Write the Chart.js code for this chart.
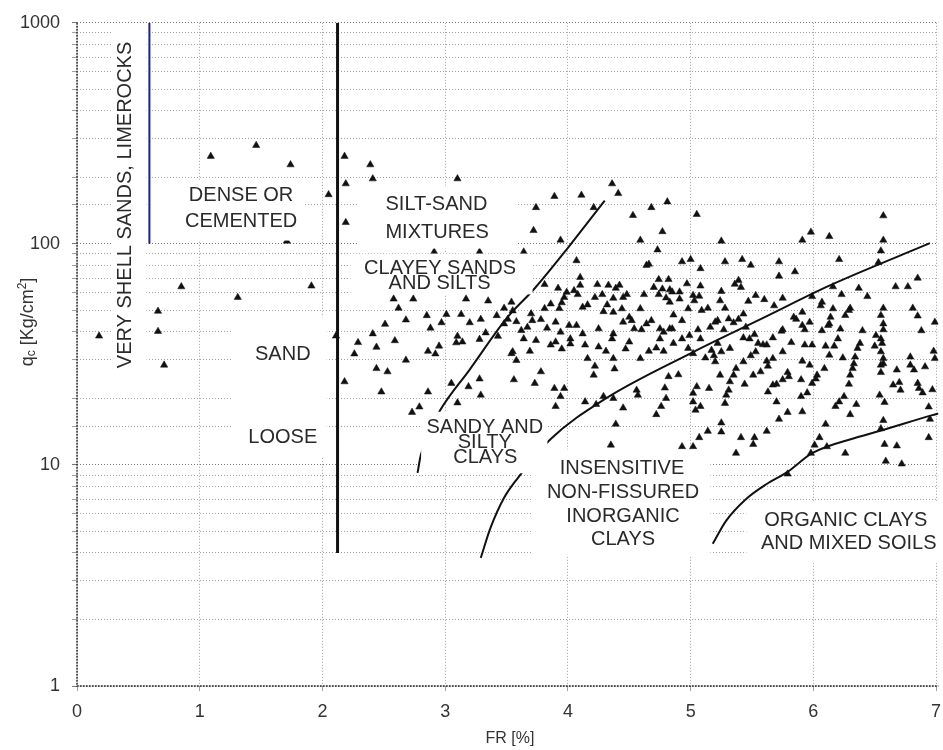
<!DOCTYPE html>
<html><head><meta charset="utf-8">
<script src="https://cdn.jsdelivr.net/npm/chart.js@4.4.1/dist/chart.umd.min.js"></script>
<style>html,body{margin:0;padding:0;background:#fff;overflow:hidden}#wrap{width:943px;height:750px;position:relative}</style>
</head><body><div id="wrap"><canvas id="c"></canvas></div>
<script>
// ---- DATA (FR [%], qc [Kg/cm2]) ----
const pointsSand = [[1.09,249],[1.46,279],[1.74,228],[2.05,167],[1.71,103],[0.85,64],[1.91,64.5],[1.31,57.3],[0.66,49.6],[0.66,40.2],[0.71,28.3],[0.18,38.3],[2.11,38.3]];
const pointsUpper = [[2.18,249],[2.39,228],[2.41,197],[2.19,187],[2.19,125],[3.10,197],[4.36,187],[4.41,169],[3.89,164],[4.11,166],[3.74,146],[4.21,146],[3.72,115],[3.94,104],[3.64,92],[4.07,84],[4.64,80],[4.66,81],[4.53,134.5],[4.68,146],[4.81,155],[4.77,113.6],[4.59,104],[4.73,94],[2.91,92],[3.28,92]];
const pointsSiltSand = [[2.58,56.3],[2.74,56.3],[2.62,51.2],[2.85,47.4],[3.01,48],[3.13,48],[2.68,45.3],[2.51,43.3],[2.88,41.6],[2.97,44],[3.20,44],[3.29,45.6],[3.17,56.3],[3.35,55.2],[2.41,39.2],[2.59,36.5],[2.29,35.8],[2.44,34.1],[2.26,31.8],[2.86,32.7],[2.92,31.8],[3.10,38.2],[3.14,36],[2.68,29.8],[2.44,27.3],[2.53,26.4],[2.18,23.8],[2.48,21.4],[2.86,21.4],[3.19,22.6],[3.29,20.7],[3.28,24.5],[3.42,47.4],[3.48,51.2],[2.95,34.5],[3.09,35.7],[3.28,37],[3.33,39.6],[3.43,38.2],[3.05,23.4],[3.10,19.1],[2.73,17.3],[2.79,18.3]];
const pointsMid = [[4.10,70.5],[4.10,65],[4.24,65.5],[4.33,65],[4.39,63],[4.42,65],[3.81,65.5],[3.92,63],[3.99,60.4],[4.05,61.5],[4.08,59],[3.97,57.3],[3.95,54.2],[4.74,69],[4.82,69],[4.70,63.6],[4.77,62.5],[4.83,62],[4.74,59],[4.80,57],[4.62,59],[4.28,59],[4.22,57.3],[4.48,59],[4.45,57.3],[4.37,56.8],[4.32,53],[4.16,53],[4.12,51.7],[3.93,51],[3.86,53.5],[3.81,51],[3.70,48.3],[3.54,54.5],[3.55,49.8],[3.51,45.6],[3.58,44.5],[3.48,43.5],[3.78,45.5],[3.71,45],[3.67,42],[3.62,40.6],[3.64,37.2],[3.74,36.6],[3.69,32.7],[3.55,32.5],[3.58,29.7],[3.83,41.6],[3.90,44.3],[3.94,39.9],[4.01,42.8],[4.07,42.8],[4.02,37.2],[4.02,35.3],[3.90,36],[3.86,34.9],[3.95,33.5],[4.12,39.2],[4.14,34.9],[4.25,41.3],[4.25,34.2],[4.31,32.7],[4.16,30.3],[4.22,28],[4.37,30.3],[4.38,27.2],[4.21,25.5],[4.29,49.4],[4.37,49.1],[4.44,50.9],[4.50,46.6],[4.52,45],[4.45,44.3],[4.54,41.3],[4.37,39.2],[4.36,37.2],[4.50,36],[4.47,33.5],[4.59,50.9],[4.68,45],[4.64,43.5],[4.60,40.9],[4.75,41.3],[4.78,39.9],[4.83,41.3],[4.75,37.2],[4.66,32.7],[4.72,33.8],[4.78,32.7],[4.59,30.3],[4.82,25.1],[4.79,22.3],[4.80,20],[4.76,18.4],[4.72,16.9],[4.56,21.8],[4.57,20.7],[4.45,18.1],[4.39,15.3],[4.35,12.3],[4.37,20],[4.29,20.4],[4.23,18.8],[4.14,19.3],[3.97,22.2],[3.89,22.2],[3.94,20.4],[3.90,18.4],[3.78,26.4],[3.73,23.4],[3.56,24.3],[3.54,31.9]];
const pointsClayA = [[5.05,136],[5.25,103],[4.93,83],[5.00,85],[5.08,77.3],[5.28,83],[5.42,85],[5.49,80.1],[5.72,83],[5.85,74.8],[5.72,71.5],[5.91,104],[5.39,68.4],[5.41,63.6],[5.36,65.7],[4.97,66],[5.08,64.5],[5.25,61],[5.47,55],[5.53,58.5],[5.60,56],[5.75,56.8],[5.68,52.5],[5.24,55.3],[5.28,51.2],[5.14,51.2],[5.09,50],[5.02,58.5],[5.03,55.3],[5.07,58],[4.85,60.6],[4.91,60.6],[4.91,56.3],[4.83,54.5],[4.98,50.9],[5.43,48.2],[5.39,45.6],[5.31,45.8],[5.22,45],[5.16,42],[5.20,44.3],[5.35,44],[5.27,40.9],[5.45,42],[5.52,38.9],[5.43,37.6],[5.48,37.2],[5.55,35.5],[5.62,34.9],[5.67,37.6],[5.75,40.9],[5.74,40.3],[5.82,35.8],[5.86,45.6],[5.84,46.6],[5.91,49.1],[4.86,47.7],[4.93,45],[4.85,41.3],[4.93,37.2],[4.86,35.5],[4.99,38.5],[5.06,40.9],[5.08,37.2],[4.98,33.7],[5.02,31.9],[5.12,30.5],[5.19,31.2],[5.20,29.3],[5.17,33],[5.25,32.5],[5.22,35.5],[5.32,33.7],[5.43,29.3],[5.49,31.2],[5.53,32.5],[5.59,35],[5.62,29.5],[5.63,28],[5.67,30.3],[5.75,32.5],[5.67,23],[5.70,23.2],[5.75,24.3],[5.79,26.2],[5.80,25.1],[5.91,29.5],[5.90,24.3],[5.90,20.4],[5.91,17.4],[5.79,17.3],[5.72,16.1],[5.70,19.3],[5.63,21.4],[5.57,26.4],[5.51,25.5],[5.44,23.2],[5.37,27.3],[5.35,25.5],[5.32,23.8],[5.31,21.8],[5.29,20.7],[5.28,19],[5.24,25.5],[5.15,22.2],[5.05,22.6],[5.02,21.1],[5.02,19.3],[5.04,17.7],[5.08,18.4],[5.25,15.5],[5.25,14.1],[5.14,14.2],[5.07,13.3],[4.93,12.1],[5.02,12.1],[5.37,11.3],[5.41,13.3],[5.52,13.3],[5.51,12.4],[5.62,14.2],[4.90,25.6]];
const pointsClayB = [[6.57,134],[5.98,113],[6.13,108],[6.57,104],[6.55,93],[6.21,85],[6.53,82.4],[6.85,70],[6.67,64],[6.77,64],[6.37,63],[6.44,57.8],[6.23,59],[6.16,64],[5.99,57.8],[6.07,54.5],[6.06,52.5],[6.16,50.9],[6.30,51.2],[6.26,47.5],[6.29,50],[6.14,46.6],[6.13,43.5],[6.12,42.8],[5.97,44.2],[5.91,42.8],[5.93,40.9],[6.07,40.5],[6.22,41.2],[6.40,40.5],[6.57,51.2],[6.55,47.5],[6.57,43.5],[6.57,40.9],[6.51,38.5],[6.55,37.2],[6.56,35.5],[6.50,34.5],[6.55,32.5],[6.57,30.3],[6.55,28.3],[6.57,28.7],[6.55,26.2],[6.81,51.2],[6.85,47.2],[6.88,40.5],[6.99,44.2],[6.98,32.7],[6.99,30.3],[6.79,30.8],[6.79,28.3],[6.82,26.9],[6.91,27.8],[6.68,26.9],[6.65,23],[6.70,23.6],[6.71,21.8],[6.85,23.4],[6.86,22.2],[6.89,21.2],[6.97,21.9],[6.54,20.7],[6.58,19.2],[6.94,18.3],[6.95,16.1],[6.57,15.9],[6.55,14.6],[6.94,13.3],[6.58,12.4],[6.68,12.2],[6.59,10.4],[6.72,10.1],[6.26,11.3],[6.10,15.3],[6.05,13.3],[6.01,12.3],[5.98,11.3],[6.11,12.1],[6.30,16.9],[6.35,18.8],[6.25,20.4],[6.21,19.3],[6.18,18.4],[5.95,21.2],[5.99,23.4],[6.02,24.5],[6.03,25.5],[6.09,27.3],[5.97,28.3],[6.24,30.5],[6.13,31.4],[6.17,34.5],[6.10,34.5],[5.99,34.9],[5.93,34.9],[6.20,37.2],[6.29,23.2],[6.30,25.5],[6.32,27.3],[6.33,28.7],[6.34,30.8],[6.36,33.7],[6.38,35.5],[5.79,9.1]];

// boundary lines
const shellLine = [[0.59,100],[0.59,1000]];
const sandLimit = [[2.123,4],[2.123,1000]];
const boundaryA = [[2.775,9.2],[2.80,11],[2.87,14],[2.96,17.7],[3.2,27],[3.5,46],[3.73,63],[4.0,96],[4.3,157]];
const boundaryB = [[3.29,3.8],[3.37,5.2],[3.48,7.1],[3.59,8.7],[3.86,13.1],[4.29,19.7],[5.02,32.4],[5.6,46.5],[6.13,64.7],[6.95,100.7]];
const boundaryC = [[5.18,4.4],[5.29,5.6],[5.45,7.0],[5.62,8.2],[5.79,9.3],[5.99,11.3],[6.35,13.3],[6.53,14.2],[6.97,16.8],[7.02,17.1]];

const xTickValues = [0,1,2,3,4,5,6,7];
const yTickLabels = [1,10,100,1000];

// zone labels (text, FR, qc, rotated)
const zoneLabels = [
  ['VERY SHELL SANDS, LIMEROCKS',0.389,150,true],
  ['DENSE OR',1.337,168],['CEMENTED',1.337,128],
  ['SILT-SAND',2.929,152.6],['MIXTURES',2.934,113.6],
  ['CLAYEY SANDS',2.958,78.6],['AND SILTS',2.954,67.0],
  ['SAND',1.677,31.8],['LOOSE',1.677,13.5],
  ['SANDY AND',3.323,15.0],['SILTY',3.323,12.8],['CLAYS',3.327,10.93],
  ['INSENSITIVE',4.441,9.75],['NON-FISSURED',4.449,7.61],['INORGANIC',4.449,5.93],['CLAYS',4.449,4.65],
  ['ORGANIC CLAYS',6.264,5.69],['AND MIXED SOILS',6.288,4.44]
];
// white label backgrounds [FR1, FR2, qc1, qc2]
const labelBoxes = [
  [0.284,0.567,990,25.9],
  [0.608,1.848,194.6,103.5],
  [2.293,3.590,183,95.3],
  [2.229,3.712,90.4,59.1],
  [1.264,2.034,46.6,10.9],
  [2.804,3.833,17.4,9.17],
  [3.712,5.162,11.75,3.84],
  [5.454,7.05,6.86,3.61]
];

const FONT = '"Liberation Sans", Arial, Helvetica, sans-serif';
Chart.defaults.font.family = FONT;

const toXY = arr => arr.map(p => ({x:p[0], y:p[1]}));
const allPoints = [].concat(pointsSand, pointsUpper, pointsSiltSand, pointsMid, pointsClayA, pointsClayB);

const overlay = {
  id:'overlay',
  afterDatasetsDraw(chart){
    const {ctx, scales:{x, y}} = chart;
    ctx.save();
    ctx.fillStyle = '#fff';
    labelBoxes.forEach(b => {
      const x1 = x.getPixelForValue(b[0]), x2 = x.getPixelForValue(b[1]);
      const y1 = y.getPixelForValue(b[2]), y2 = y.getPixelForValue(b[3]);
      ctx.fillRect(Math.min(x1,x2), Math.min(y1,y2), Math.abs(x2-x1), Math.abs(y2-y1));
    });
    ctx.fillStyle = '#2a2a2a';
    ctx.font = '20px ' + FONT;
    ctx.textAlign = 'center';
    ctx.textBaseline = 'middle';
    zoneLabels.forEach(l => {
      const px = x.getPixelForValue(l[1]), py = y.getPixelForValue(l[2]);
      if (l[3]) {
        ctx.save(); ctx.translate(px, py); ctx.rotate(-Math.PI/2); ctx.fillText(l[0], 0, 1); ctx.restore();
      } else ctx.fillText(l[0], px, py + 1);
    });
    ctx.restore();
  },
  afterDraw(chart){
    const ctx = chart.ctx;
    const area = chart.chartArea;
    // solid-ish dark axis lines on left and bottom
    ctx.save();
    ctx.strokeStyle = '#333';
    ctx.lineWidth = 1.5;
    ctx.setLineDash([2,1]);
    ctx.beginPath();
    ctx.moveTo(area.left, area.top); ctx.lineTo(area.left, area.bottom); ctx.lineTo(area.right, area.bottom);
    ctx.stroke();
    ctx.restore();
    // y axis title with subscript/superscript
    ctx.save();
    ctx.translate(28, 322);
    ctx.rotate(-Math.PI/2);
    ctx.fillStyle = '#333';
    ctx.textBaseline = 'middle';
    ctx.textAlign = 'left';
    const big = '18px ' + FONT, small = '12px ' + FONT;
    const parts = [['q',big,0],['c',small,4],[' [Kg/cm',big,0],['2',small,-5],[']',big,0]];
    let total = 0;
    parts.forEach(p => { ctx.font = p[1]; total += ctx.measureText(p[0]).width; });
    let cx = -total/2;
    parts.forEach(p => { ctx.font = p[1]; ctx.fillText(p[0], cx, p[2]); cx += ctx.measureText(p[0]).width; });
    ctx.restore();
    // x axis title
    ctx.save();
    ctx.fillStyle = '#333';
    ctx.font = '16px ' + FONT;
    ctx.textAlign = 'center';
    ctx.textBaseline = 'middle';
    ctx.fillText('FR [%]', 510, 739);
    ctx.restore();
  }
};

const gridColor = ctx => {
  const v = ctx.tick && ctx.tick.value;
  return (v && yTickLabels.includes(v)) ? '#777' : '#a0a0a0';
};

new Chart(document.getElementById('c'), {
  type: 'scatter',
  data: {
    datasets: [
      { label:'CPT', data: toXY(allPoints), pointStyle:'triangle', pointRadius:4.2, backgroundColor:'#111', borderColor:'#111', borderWidth:0.5, order:0 },
      { label:'shell', data: toXY(shellLine), showLine:true, pointRadius:0, borderColor:'#1e1e8c', borderWidth:2, order:1 },
      { label:'sand', data: toXY(sandLimit), showLine:true, pointRadius:0, borderColor:'#111', borderWidth:3, order:1 },
      { label:'A', data: toXY(boundaryA), showLine:true, pointRadius:0, borderColor:'#111', borderWidth:2, cubicInterpolationMode:'monotone', order:1 },
      { label:'B', data: toXY(boundaryB), showLine:true, pointRadius:0, borderColor:'#111', borderWidth:2, cubicInterpolationMode:'monotone', order:1 },
      { label:'C', data: toXY(boundaryC), showLine:true, pointRadius:0, borderColor:'#111', borderWidth:2, cubicInterpolationMode:'monotone', order:1 }
    ]
  },
  options: {
    responsive: true,
    maintainAspectRatio: false,
    animation: false,
    events: [],
    layout: { padding: { top: 19, right: 0, left: 0, bottom: 0 } },
    plugins: { legend: { display:false }, tooltip: { enabled:false } },
    scales: {
      x: {
        type:'linear', min:0, max:7.018,
        afterFit: s => { s.height = 64; s.paddingRight = 0; },
        afterBuildTicks: s => { s.ticks = xTickValues.map(v => ({value:v})); },
        ticks: { stepSize:1, includeBounds:false, color:'#333', font:{size:18}, padding:10, maxRotation:0,
                 callback: v => String(v) },
        grid: { color:'#a0a0a0', tickLength:5, lineWidth:1 },
        border: { display:false, dash:[1,2] },
        title: { display:false }
      },
      y: {
        type:'logarithmic', min:1, max:1000,
        afterFit: s => { s.width = 77; },
        ticks: { autoSkip:false, color:'#333', font:{size:18}, padding:12,
                 callback: v => yTickLabels.includes(v) ? String(v) : '' },
        grid: { color: gridColor, tickLength:5, lineWidth:1 },
        border: { display:false, dash:[1,2] },
        title: { display:false }
      }
    }
  },
  plugins: [overlay]
});
</script>
</body></html>
